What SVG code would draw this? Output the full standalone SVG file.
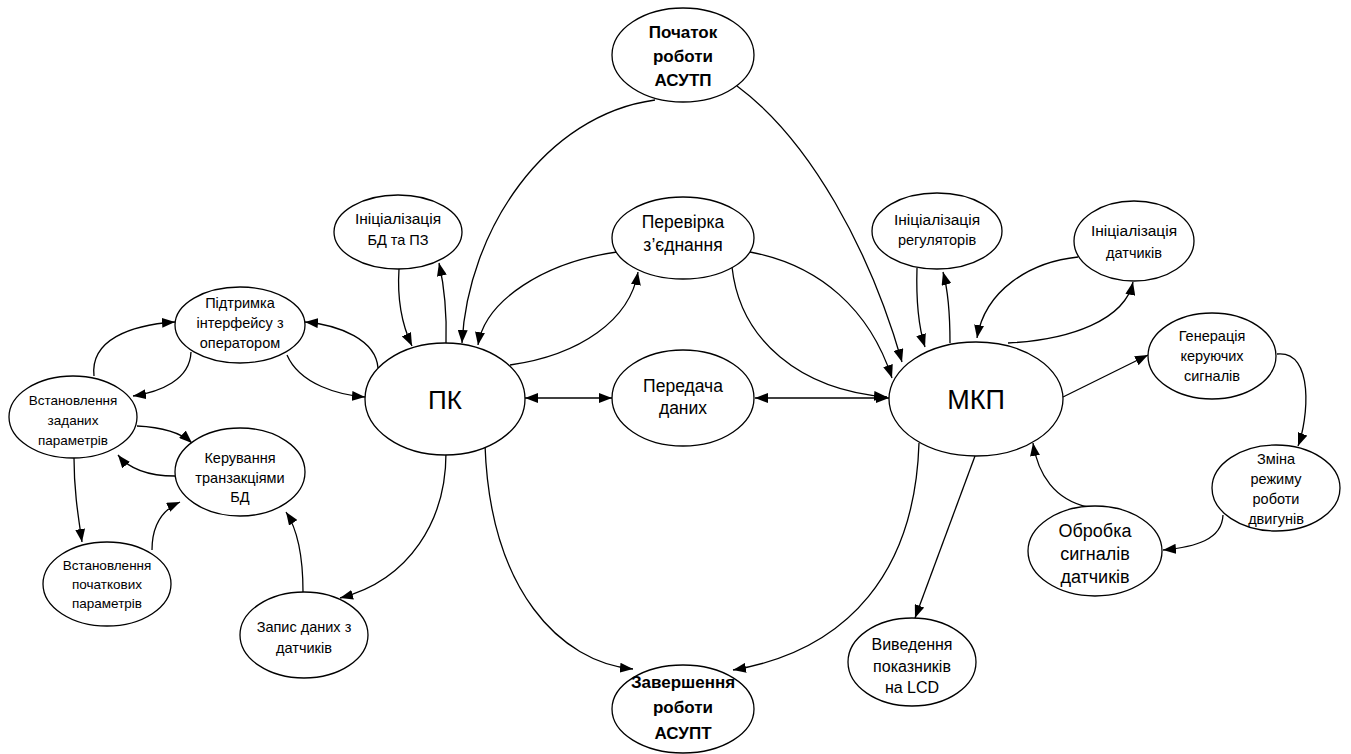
<svg xmlns="http://www.w3.org/2000/svg" width="1351" height="754" viewBox="0 0 1351 754">
<style>
.n ellipse{fill:#fff;stroke:#000;stroke-width:1.3}
.n text{font-family:"Liberation Sans",Arial,sans-serif;fill:#000;text-anchor:middle}
.s text{font-size:14.5px}
.m text{font-size:17.5px}
.b text{font-size:17px;font-weight:bold}
.big text{font-size:26px}
.n text.ini{font-size:15.5px}
#conn path{fill:none;stroke:#000;stroke-width:1.3;marker-end:url(#a)}
#conn path.d{marker-start:url(#a)}
</style>
<defs>
<marker id="a" markerUnits="userSpaceOnUse" markerWidth="14" markerHeight="10" refX="13" refY="5" orient="auto-start-reverse">
<path d="M0,0 L13,5 L0,10 z" fill="#000"/>
</marker>
</defs>
<rect width="1351" height="754" fill="#fff"/>
<g id="conn">
<path d="M 655 100 C 545 115, 468 230, 462 343"/>
<path d="M 737 86 C 810 140, 870 250, 902 362"/>
<path d="M 617 252 C 545 262, 485 300, 478 345"/>
<path d="M 510 365 C 580 355, 630 320, 638 272"/>
<path d="M 750 252 C 820 265, 870 310, 892 378"/>
<path d="M 732 267 C 740 340, 800 390, 887 397"/>
<path class="d" d="M 525 398 L 612 398"/>
<path class="d" d="M 755 398 L 889 398"/>
<path d="M 399 269 C 397 300, 402 325, 412 346"/>
<path d="M 446 343 C 447 310, 444 285, 439 263"/>
<path d="M 917 268 C 916 300, 918 325, 925 347"/>
<path d="M 950 343 C 950 310, 948 290, 943 272"/>
<path d="M 1078 257 C 1030 262, 985 290, 977 338"/>
<path d="M 1008 343 C 1070 340, 1125 320, 1133 282"/>
<path d="M 1063 397 L 1148 355"/>
<path d="M 1277 354 C 1315 350, 1308 420, 1298 446"/>
<path d="M 1223 515 C 1222 540, 1195 547, 1163 550"/>
<path d="M 1088 507 C 1055 500, 1038 475, 1033 443"/>
<path d="M 975 456 L 915 618"/>
<path d="M 919 443 C 915 570, 850 650, 733 670"/>
<path d="M 485 445 C 490 590, 560 662, 633 669"/>
<path d="M 446 453 C 446 520, 410 580, 340 598"/>
<path d="M 303 592 C 303 555, 298 530, 286 512"/>
<path d="M 152 550 C 152 525, 162 510, 180 502"/>
<path d="M 74 458 C 74 490, 78 515, 82 542"/>
<path d="M 94 376 C 90 340, 130 325, 175 322"/>
<path d="M 191 352 C 190 380, 160 392, 133 396"/>
<path d="M 137 426 C 160 427, 180 432, 192 443"/>
<path d="M 175 476 C 150 476, 130 470, 118 455"/>
<path d="M 287 355 C 300 385, 340 395, 365 397"/>
<path d="M 378 368 C 376 340, 340 325, 305 322"/>
</g>
<g id="start" class="n b"><ellipse cx="683" cy="55" rx="71" ry="47"/><text x="683" y="38">Початок</text><text x="683" y="62">роботи</text><text x="683" y="86">АСУТП</text></g>
<g id="pk" class="n big"><ellipse cx="445" cy="399" rx="80" ry="56"/><text x="445" y="409">ПК</text></g>
<g id="transfer" class="n m"><ellipse cx="683" cy="398" rx="71" ry="48"/><text x="683" y="392">Передача</text><text x="683" y="414">даних</text></g>
<g id="check" class="n m"><ellipse cx="683" cy="238" rx="71" ry="41"/><text x="683" y="228">Перевірка</text><text x="683" y="251">з’єднання</text></g>
<g id="initdb" class="n s"><ellipse cx="398" cy="232" rx="64" ry="37"/><text class="ini" x="398" y="224">Ініціалізація</text><text x="398" y="245">БД та ПЗ</text></g>
<g id="pidtr" class="n s"><ellipse cx="240" cy="325" rx="65" ry="38"/><text x="240" y="308">Підтримка</text><text x="240" y="328">інтерфейсу з</text><text x="240" y="348">оператором</text></g>
<g id="vzad" class="n s"><ellipse cx="73" cy="417" rx="64" ry="41"/><text x="73" y="405" style="font-size:13.5px">Встановлення</text><text x="73" y="425" style="font-size:13.5px">заданих</text><text x="73" y="445" style="font-size:13.5px">параметрів</text></g>
<g id="keruv" class="n s"><ellipse cx="240" cy="472" rx="65" ry="44"/><text x="240" y="463">Керування</text><text x="240" y="483">транзакціями</text><text x="240" y="502">БД</text></g>
<g id="vpoch" class="n s"><ellipse cx="107" cy="584" rx="64" ry="42"/><text x="107" y="570" style="font-size:13.5px">Встановлення</text><text x="107" y="589" style="font-size:13.5px">початкових</text><text x="107" y="608" style="font-size:13.5px">параметрів</text></g>
<g id="zapys" class="n s"><ellipse cx="304" cy="635" rx="64" ry="43"/><text x="304" y="632">Запис даних з</text><text x="304" y="653">датчиків</text></g>
<g id="finish" class="n b"><ellipse cx="683" cy="709" rx="71" ry="44"/><text x="683" y="688">Завершення</text><text x="683" y="713">роботи</text><text x="683" y="739">АСУПТ</text></g>
<g id="mkp" class="n big"><ellipse cx="976" cy="399" rx="87" ry="57"/><text x="976" y="409" style="font-size:27px">МКП</text></g>
<g id="initreg" class="n s"><ellipse cx="937" cy="231" rx="65" ry="38"/><text class="ini" x="937" y="225">Ініціалізація</text><text x="937" y="245">регуляторів</text></g>
<g id="initsens" class="n s"><ellipse cx="1134" cy="241" rx="60" ry="40"/><text class="ini" x="1134" y="236">Ініціалізація</text><text x="1134" y="258">датчиків</text></g>
<g id="gen" class="n s"><ellipse cx="1212" cy="356" rx="64" ry="43"/><text x="1212" y="341">Генерація</text><text x="1212" y="361">керуючих</text><text x="1212" y="381">сигналів</text></g>
<g id="zmina" class="n s"><ellipse cx="1276" cy="488" rx="64" ry="43"/><text x="1276" y="464">Зміна</text><text x="1276" y="484">режиму</text><text x="1276" y="504">роботи</text><text x="1276" y="524">двигунів</text></g>
<g id="obrobka" class="n m"><ellipse cx="1095" cy="551" rx="67" ry="45"/><text x="1095" y="537" style="font-size:18px">Обробка</text><text x="1095" y="560" style="font-size:18px">сигналів</text><text x="1095" y="583" style="font-size:18px">датчиків</text></g>
<g id="vyved" class="n m"><ellipse cx="912" cy="662" rx="64" ry="44"/><text x="912" y="650" style="font-size:16px">Виведення</text><text x="912" y="672" style="font-size:16px">показників</text><text x="912" y="693" style="font-size:16px">на LCD</text></g>
</svg>
